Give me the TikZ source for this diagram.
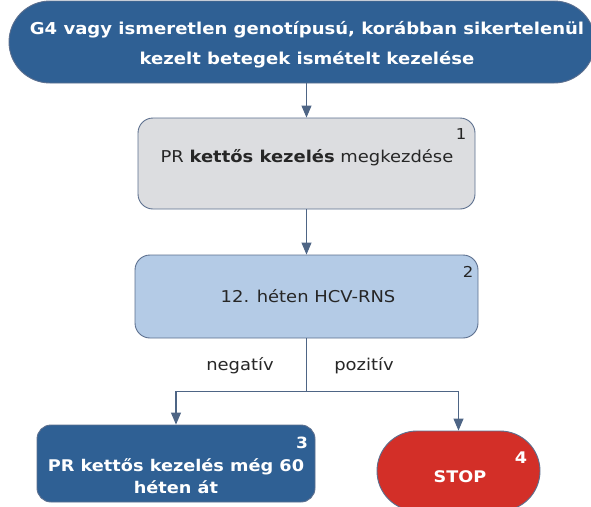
\documentclass[tikz,border=0pt]{standalone}
\usepackage{fontspec}
\setmainfont{DejaVu Sans}[FakeStretch=1.1]
\usetikzlibrary{arrows.meta}
\definecolor{dblue}{HTML}{2F6094}
\definecolor{lblue}{HTML}{B4CBE6}
\definecolor{lgray}{HTML}{DCDDE0}
\definecolor{sred}{HTML}{D32F28}
\definecolor{edge}{HTML}{5C6F8E}
\definecolor{arr}{HTML}{4E6585}
\tikzset{
  shapebox/.style={draw=edge, line width=0.9pt, inner sep=0pt},
  conn/.style={draw=arr, line width=1.1pt, -{Triangle[width=10pt,length=12pt]}},
  plainconn/.style={draw=arr, line width=1.1pt},
  txt/.style={font=\fontsize{16.3}{18}\selectfont, text=black!85, inner sep=0pt},
  wtxt/.style={font=\fontsize{16.1}{22}\selectfont\bfseries, text=white, inner sep=0pt, align=center},
  numtxt/.style={font=\fontsize{15}{18}\selectfont, inner sep=0pt},
}
\begin{document}
\begin{tikzpicture}[x=1pt,y=-1pt]
\useasboundingbox (0,0) rectangle (591,506);
\clip (0,0) rectangle (591,506);
% shapes
\node[shapebox, fill=dblue, rounded corners=41pt, minimum width=586pt, minimum height=82pt] (top) at (302,42) {};
\node[wtxt, font=\fontsize{16.4}{30}\selectfont\bfseries] (toptxt) at (307,45) {G4 vagy ismeretlen genotípusú, korábban sikertelenül\\kezelt betegek ismételt kezelése};
\node[shapebox, fill=lgray, rounded corners=15pt, minimum width=337pt, minimum height=91pt] (b1) at (306.5,163.5) {};
\node[txt] (b1t) at (307,158) {PR \textbf{kettős kezelés} megkezdése};
\node[numtxt, text=black!85] (n1) at (461,134) {1};
\node[shapebox, fill=lblue, rounded corners=15pt, minimum width=343pt, minimum height=83pt] (b2) at (306.5,296.5) {};
\node[txt] (b2t) at (308,296) {12. héten HCV-RNS};
\node[numtxt, text=black!85] (n2) at (468,272) {2};
\node[shapebox, fill=dblue, rounded corners=14pt, minimum width=278pt, minimum height=77pt] (b3) at (176,463.5) {};
\node[wtxt] (b3t) at (176,476) {PR kettős kezelés még 60\\héten át};
\node[numtxt, font=\fontsize{15.5}{18}\selectfont\bfseries, text=white] (n3) at (302,443) {3};
\node[shapebox, fill=sred, rounded corners=40pt, minimum width=163pt, minimum height=80pt] (stop) at (458.5,471) {};
\node[wtxt, font=\fontsize{16}{18}\selectfont\bfseries] (stopt) at (460,477) {STOP};
\node[numtxt, font=\fontsize{16}{18}\selectfont\bfseries, text=white] (n4) at (521,458) {4};
% labels
\node[txt] (neg) at (240,366) {negatív};
\node[txt] (poz) at (364,366) {pozitív};
% connectors
\path (b2.south) ++(0,53) coordinate (split);
\draw[conn] (top.south -| b1.north) -- (b1.north);
\draw[conn] (b1.south) -- (b2.north);
\draw[plainconn] (b2.south) -- (split);
\draw[conn] (split) -| (b3.north);
\draw[conn] (split) -| (stop.north);
\end{tikzpicture}
\end{document}
